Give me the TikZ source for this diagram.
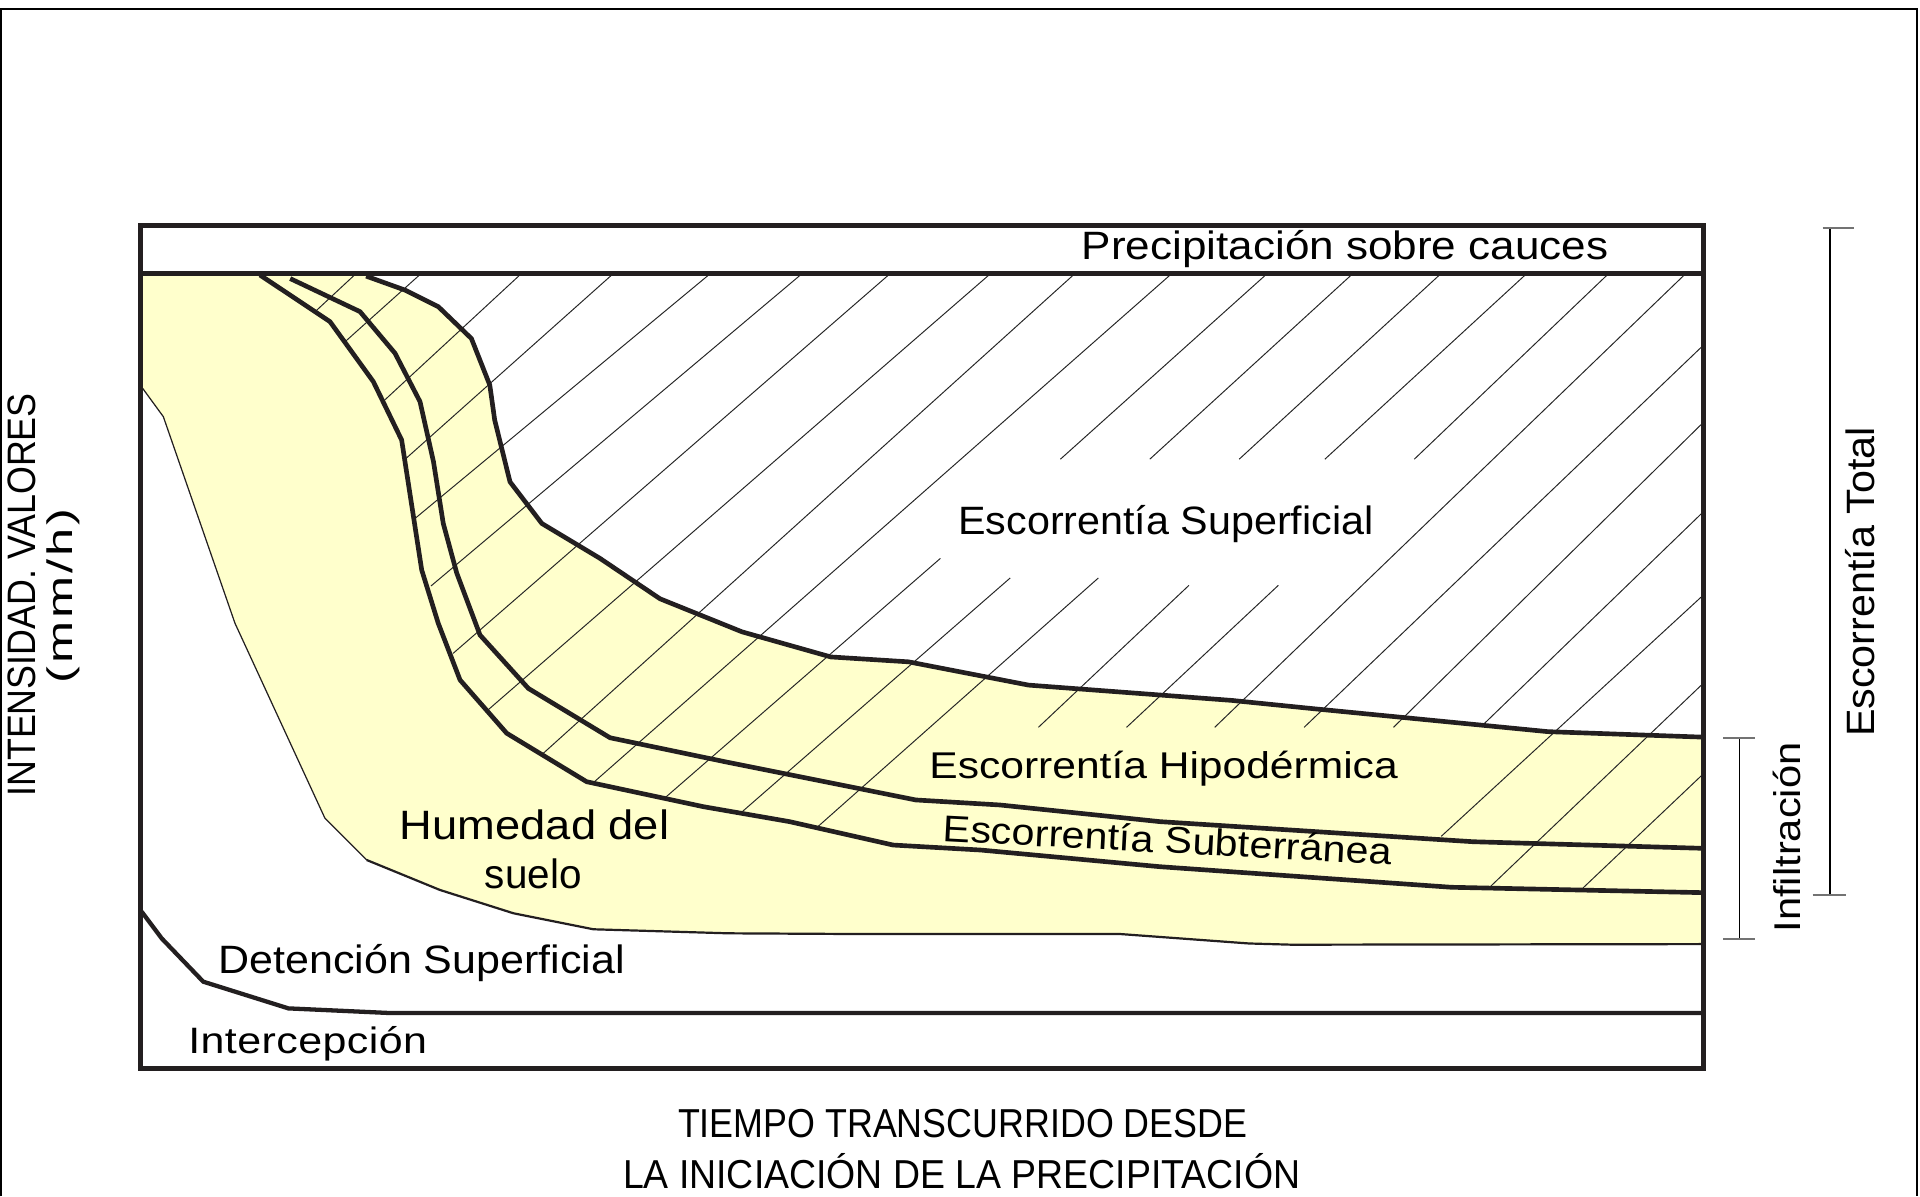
\documentclass[tikz,border=0pt]{standalone}
\usepackage{fontspec}
\setmainfont{Liberation Sans}
\usepackage{graphicx}
\newcommand{\fitw}[2]{\resizebox{#1}{\height}{#2}}
\newcommand{\setfs}[1]{\fontsize{#1}{#1}\selectfont}
\definecolor{ink}{RGB}{35,31,32}
\definecolor{soil}{RGB}{255,255,204}
\begin{document}
\begin{tikzpicture}[x=1pt,y=-1pt,
  inkline/.style={draw=ink, line width=3.8pt, line join=miter},
  hatchline/.style={draw=black!85, line width=0.8pt},
  txt/.style={inner sep=0pt, outer sep=0pt, text=black, anchor=base west},
  bracketline/.style={draw=black, line width=1pt},
  tickline/.style={draw=black!55, line width=1.6pt}]
\useasboundingbox (0,0) rectangle (1568,977);
% outer frame
\draw[black, line width=1.3pt] (0.8,977) -- (0.8,7.3) -- (1565.5,7.3) -- (1565.5,977);
% yellow soil region
\fill[soil] (114.5,225.5) -- (299,225.5) -- (331,237) -- (358,250.5) -- (385,276.5) -- (400,314.5) -- (404,343) -- (416.5,393.5) -- (442.5,427.5) -- (490,456) -- (539,489) -- (606,516) -- (678.5,536.5) -- (742,540.5) -- (840,559.5) -- (1006,572) -- (1070,578.5) -- (1264,597.5) -- (1391,602) -- (1391,771) -- (1055,771.5) -- (1020,770.5) -- (913.7,762.7) -- (685.5,762.7) -- (594.8,762.2) -- (484.5,758.9) -- (419.2,745.8) -- (359.3,726.8) -- (299.4,702.3) -- (265.4,668.3) -- (191.9,509) -- (133.4,340.3) -- (114.5,314.4) -- cycle;
% lower boundary of the soil region
\draw[draw=ink, line width=1pt] (114.5,314.4) -- (133.4,340.3) -- (191.9,509) -- (265.4,668.3) -- (299.4,702.3);
\draw[draw=ink, line width=1.8pt] (299.4,702.3) -- (359.3,726.8) -- (419.2,745.8) -- (484.5,758.9) -- (594.8,762.2) -- (685.5,762.7) -- (913.7,762.7) -- (1020,770.5) -- (1055,771.5) -- (1391,771);
% hatching
\begin{scope}
\clip (212.3,222) -- (1391,222) -- (1391,729) -- (1185.3,724.6) -- (947.3,707.8) -- (801,694.2) -- (729.3,690.1) -- (644.8,671) -- (574.5,658.8) -- (479.1,638.4) -- (413.8,598.8) -- (375.7,555.3) -- (357.9,509) -- (344.4,465.5) -- (336.2,412.4) -- (328,359.3) -- (304.9,311.7) -- (269.5,262.7) -- (212.3,224.6) -- cycle;
\draw[hatchline, shorten <=-3pt, shorten >=-4pt] (288,226) -- (259,253);
\draw[hatchline, shorten <=-3pt, shorten >=-4pt] (341,226) -- (283,278);
\draw[hatchline, shorten <=-3pt, shorten >=-4pt] (423,226) -- (316,325);
\draw[hatchline, shorten <=-3pt, shorten >=-4pt] (498,226) -- (332,374);
\draw[hatchline, shorten <=-3pt, shorten >=-4pt] (577,226) -- (337,425);
\draw[hatchline, shorten <=-3pt, shorten >=-4pt] (652,226) -- (355,476);
\draw[hatchline, shorten <=-3pt, shorten >=-4pt] (724,226) -- (373,531);
\draw[hatchline, shorten <=-3pt, shorten >=-4pt] (806,226) -- (400,578.5);
\draw[hatchline, shorten <=-3pt, shorten >=-4pt] (875,226) -- (445,614);
\draw[hatchline, shorten <=-3pt, shorten >=-4pt] (954,226) -- (487,637);
\draw[hatchline, shorten <=-3pt] (1032,226) -- (866,375);
\draw[hatchline, shorten >=-4pt] (768,456) -- (546,649);
\draw[hatchline, shorten <=-3pt] (1102,226) -- (939,375);
\draw[hatchline, shorten >=-4pt] (825,472) -- (606,663);
\draw[hatchline, shorten <=-3pt] (1174,226) -- (1012,375);
\draw[hatchline, shorten >=-4pt] (897,472) -- (668,675);
\draw[hatchline, shorten <=-3pt] (1244,226) -- (1082,375);
\draw[hatchline] (971,478) -- (848,594);
\draw[hatchline, shorten <=-3pt] (1311,226) -- (1155,375);
\draw[hatchline] (1044,478) -- (920,594);
\draw[hatchline, shorten <=-3pt] (1374,226) -- (992,594);
\draw[hatchline, shorten <=-3pt] (1391,282) -- (1065,594);
\draw[hatchline, shorten <=-3pt] (1391,345) -- (1138,594);
\draw[hatchline, shorten <=-3pt] (1391,418) -- (1210,593);
\draw[hatchline, shorten <=-3pt] (1391,486) -- (1177,683);
\draw[hatchline, shorten <=-3pt, shorten >=-4pt] (1391,558) -- (1214,727);
\draw[hatchline, shorten <=-3pt, shorten >=-4pt] (1391,632) -- (1294,724);
\end{scope}
% thick boundary curves
\draw[inkline] (299,225.5) -- (331,237) -- (358,250.5) -- (385,276.5) -- (400,314.5) -- (404,343) -- (416.5,393.5) -- (442.5,427.5) -- (490,456) -- (539,489) -- (606,516) -- (678.5,536.5) -- (742,540.5) -- (840,559.5) -- (1006,572) -- (1070,578.5) -- (1264,597.5) -- (1391,602);
\draw[inkline] (237,227.5) -- (294,254.5) -- (322.6,288.5) -- (343,328) -- (354,377) -- (362,427.5) -- (373,468) -- (392,518.6) -- (431.5,562.2) -- (498.2,602.5) -- (591.7,622) -- (748,653.3) -- (816.7,657.4) -- (947.3,671) -- (1203,687.4) -- (1391,692.8);
\draw[inkline] (212.3,224.6) -- (269.5,262.7) -- (304.9,311.7) -- (328,359.3) -- (336.2,412.4) -- (344.4,465.5) -- (357.9,509) -- (375.7,555.3) -- (413.8,598.8) -- (479.1,638.4) -- (574.5,658.8) -- (644.8,671) -- (729.3,690.1) -- (801,694.2) -- (947.3,707.8) -- (1185.3,724.6) -- (1391,729);
% main box and horizontal lines
\draw[inkline] (114.5,184) rectangle (1391,872.5);
\draw[inkline] (114.5,223.3) -- (1391,223.3);
\draw[inkline, line width=3.5pt] (115.7,744.5) -- (132,766.3) -- (166,801.7) -- (235.5,823.5) -- (318.5,827.3) -- (1391,827.3);
% texts
\node[txt] (precip) at (883.5,212.3) {\setfs{32.3}\fitw{430pt}{Precipitación sobre cauces}};
\node[txt] (esup) at (782.7,436.9) {\setfs{32.3}\fitw{339pt}{Escorrentía Superficial}};
\node[txt] (ehipo) at (759,635.6) {\setfs{30.4}\fitw{382.5pt}{Escorrentía Hipodérmica}};
\node[txt, rotate=-3] (esubt) at (770,687) {\setfs{30.4}\fitw{366.5pt}{Escorrentía Subterránea}};
\node[txt] (hum1) at (326.6,685.4) {\setfs{33.5}\fitw{220pt}{Humedad del}};
\node[txt] (hum2) at (396,725.5) {\setfs{33.5}\fitw{79pt}{suelo}};
\node[txt] (deten) at (178.3,794.9) {\setfs{32.3}\fitw{332pt}{Detención Superficial}};
\node[txt] (inter) at (153.8,860.2) {\setfs{30}\addfontfeatures{LetterSpace=1}\fitw{195pt}{Intercepción}};
\node[txt] (tiempo1) at (553.7,928.8) {\setfs{33}\fitw{465pt}{TIEMPO TRANSCURRIDO DESDE}};
\node[txt] (tiempo2) at (508.8,970.5) {\setfs{33}\fitw{553pt}{LA INICIACIÓN DE LA PRECIPITACIÓN}};
\node[txt, rotate=90] (etotal) at (1531,601.8) {\setfs{32.3}\fitw{253pt}{Escorrentía Total}};
\node[txt, rotate=90] (infil) at (1470,761.4) {\setfs{30.4}\fitw{155pt}{Infiltración}};
\node[txt, rotate=90] (intens) at (28.6,650.6) {\setfs{32.4}\fitw{329.4pt}{INTENSIDAD. VALORES}};
\node[txt, rotate=90] (unid) at (59.2,558) {\setfs{29}\addfontfeatures{LetterSpace=6}\fitw{143pt}{(mm/h)}};
% brackets
\coordinate (totT) at (1494.5,186);
\coordinate (totB) at (1494.5,731);
\coordinate (totTL) at (1488.4,186);
\coordinate (totTR) at (1514.3,186);
\coordinate (totBL) at (1480.3,731);
\coordinate (totBR) at (1507.5,731);
\draw[bracketline] (totT) -- (totB);
\draw[tickline] (totTL) -- (totTR);
\draw[tickline] (totBL) -- (totBR);
\coordinate (infT) at (1420.4,603);
\coordinate (infB) at (1420.4,767);
\coordinate (infTL) at (1407.4,603);
\coordinate (infTR) at (1433.2,603);
\coordinate (infBL) at (1407.4,767);
\coordinate (infBR) at (1433.2,767);
\draw[bracketline] (infT) -- (infB);
\draw[tickline] (infTL) -- (infTR);
\draw[tickline] (infBL) -- (infBR);
\end{tikzpicture}
\end{document}
